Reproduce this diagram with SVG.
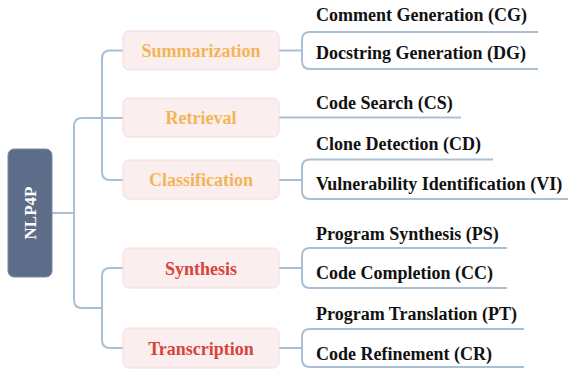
<svg xmlns="http://www.w3.org/2000/svg" width="568" height="372" viewBox="0 0 568 372">
<style>
.ln{fill:none;stroke:#a9bfd5;stroke-width:2}
.box{fill:#fbeeee;stroke:#f2dcdc;stroke-width:1}
.cat{font-family:"Liberation Serif","Times New Roman",serif;font-weight:bold;font-size:18px;text-anchor:middle}
.or{fill:#f4b457}
.rd{fill:#d8443a}
.leaf{font-family:"Liberation Serif","Times New Roman",serif;font-weight:bold;font-size:18px;fill:#111}
</style>
<rect width="568" height="372" fill="#ffffff"/>
<g id="connectors">
<path class="ln" d="M52 213 H74"/>
<path class="ln" d="M102 118 H82 Q74 118 74 126 V300 Q74 308 82 308 H102"/>
<path class="ln" d="M123 50.5 H110 Q102 50.5 102 58.5 V172 Q102 180 110 180 H123"/>
<path class="ln" d="M102 118 H123"/>
<path class="ln" d="M123 268 H110 Q102 268 102 276 V340 Q102 348 110 348 H123"/>
<path class="ln" d="M279 50.5 H302"/>
<path class="ln" d="M538 32 H310 Q302 32 302 40 V61 Q302 69 310 69 H538"/>
<path class="ln" d="M279 117.5 H461"/>
<path class="ln" d="M279 180 H302"/>
<path class="ln" d="M493 159.5 H310 Q302 159.5 302 167.5 V191 Q302 199 310 199 H568"/>
<path class="ln" d="M279 268 H302"/>
<path class="ln" d="M507 248 H310 Q302 248 302 256 V280 Q302 288 310 288 H507"/>
<path class="ln" d="M279 348 H302"/>
<path class="ln" d="M524 329 H310 Q302 329 302 337 V359 Q302 367 310 367 H524"/>
</g>
<g id="root">
<rect x="8" y="149" width="44" height="128" rx="6" fill="#5d6d89" stroke="#7d8aa0" stroke-width="1"/>
<text transform="translate(36 213) rotate(-90)" font-family="'Liberation Serif','Times New Roman',serif" font-weight="bold" font-size="17" fill="#ffffff" text-anchor="middle">NLP4P</text>
</g>
<g id="summarization">
<rect class="box" x="123" y="31" width="156" height="39" rx="6"/>
<text class="cat or" x="201" y="56.5">Summarization</text>
</g>
<g id="retrieval">
<rect class="box" x="123" y="98" width="156" height="39" rx="6"/>
<text class="cat or" x="201" y="123.5">Retrieval</text>
</g>
<g id="classification">
<rect class="box" x="123" y="160" width="156" height="39" rx="6"/>
<text class="cat or" x="201" y="186">Classification</text>
</g>
<g id="synthesis">
<rect class="box" x="123" y="248" width="156" height="40" rx="6"/>
<text class="cat rd" x="201" y="274.5">Synthesis</text>
</g>
<g id="transcription">
<rect class="box" x="123" y="328" width="156" height="40" rx="6"/>
<text class="cat rd" x="201" y="354.5">Transcription</text>
</g>
<g id="cg"><text class="leaf" x="316" y="21">Comment Generation (CG)</text></g>
<g id="dg"><text class="leaf" x="316" y="58.5">Docstring Generation (DG)</text></g>
<g id="cs"><text class="leaf" x="316" y="108.5">Code Search (CS)</text></g>
<g id="cd"><text class="leaf" x="316" y="150">Clone Detection (CD)</text></g>
<g id="vi"><text class="leaf" x="316" y="190">Vulnerability Identification (VI)</text></g>
<g id="ps"><text class="leaf" x="316" y="240">Program Synthesis (PS)</text></g>
<g id="cc"><text class="leaf" x="316" y="278.5">Code Completion (CC)</text></g>
<g id="pt"><text class="leaf" x="316" y="320">Program Translation (PT)</text></g>
<g id="cr"><text class="leaf" x="316" y="360">Code Refinement (CR)</text></g>
</svg>
